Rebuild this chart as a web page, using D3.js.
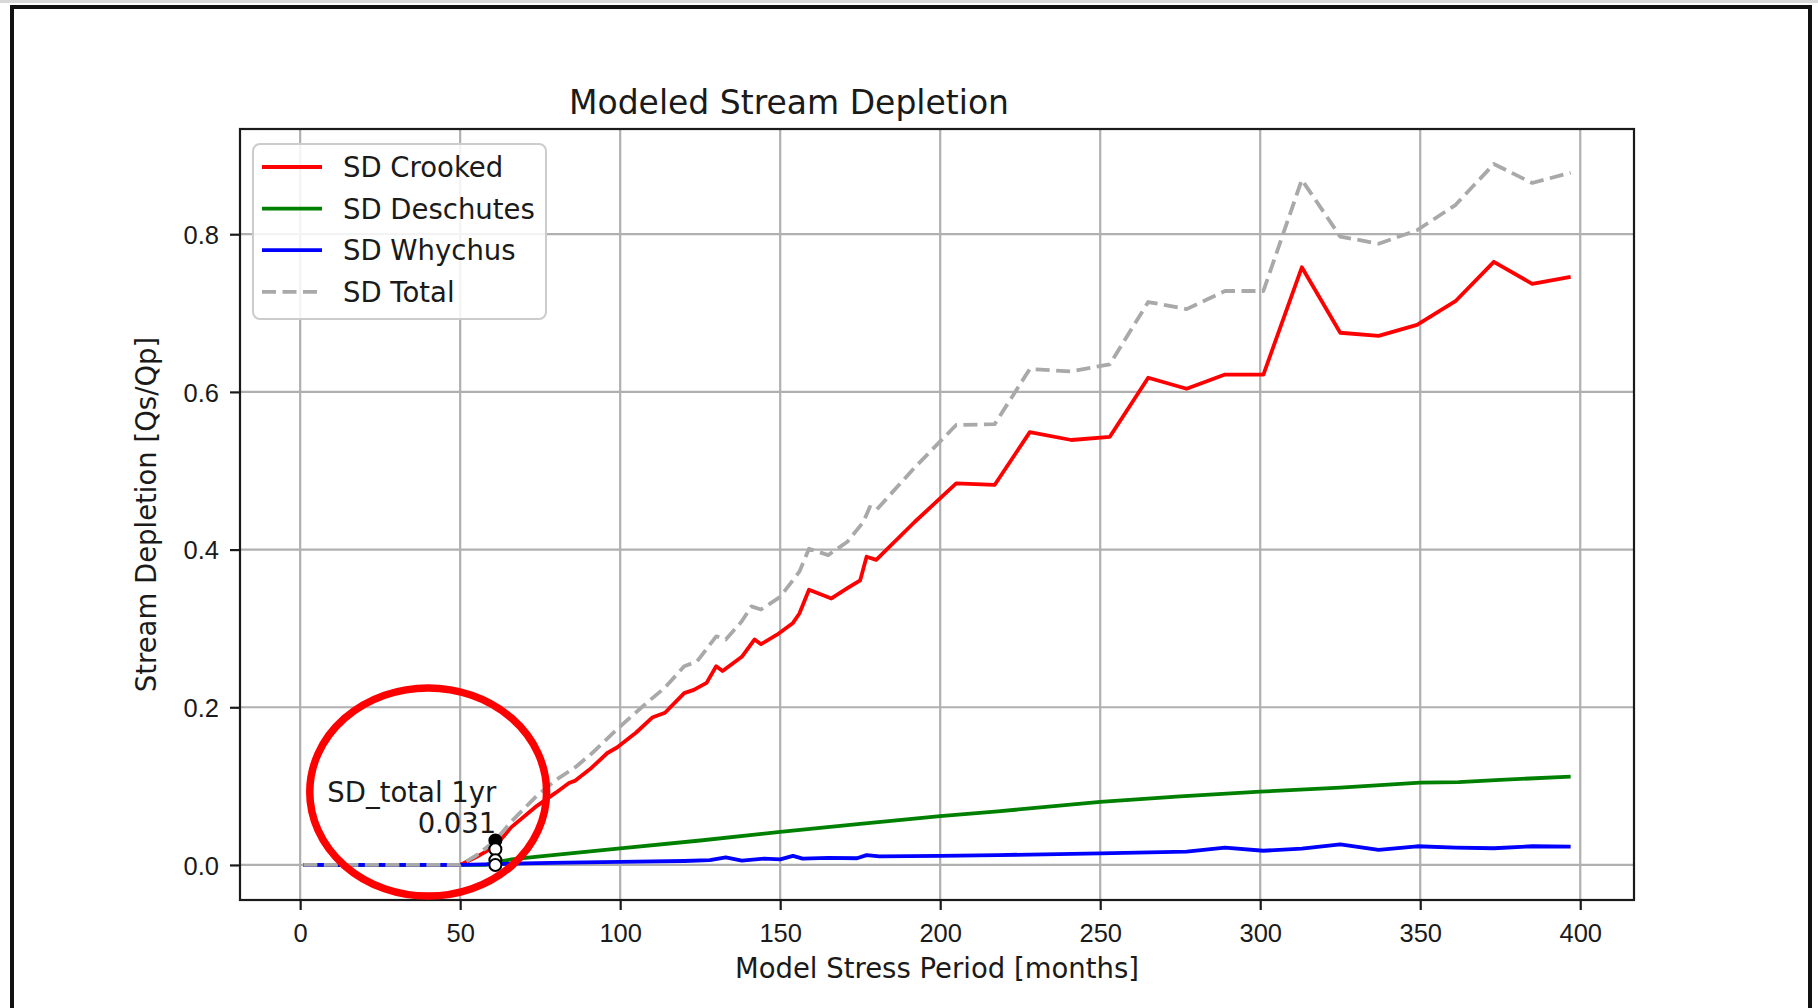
<!DOCTYPE html>
<html>
<head>
<meta charset="utf-8">
<script src="https://cdn.jsdelivr.net/npm/d3@7"></script>
<style>
  html, body { margin: 0; padding: 0; background: #fff; }
  svg { display: block; font-family: "DejaVu Sans", sans-serif; }
</style>
</head>
<body>
<div id="chart"></div>
<script>
// values (x = model stress period, y = Qs/Qp)
const crookedX = [1, 50, 55, 61, 66, 74, 80, 84, 86, 91, 96, 99, 105, 110, 114, 120, 123, 127, 130, 132,
  138, 142, 144, 149, 154, 156, 159, 166, 171, 175, 177, 180, 192, 205, 217, 228, 241, 253, 265, 277,
  289, 301, 313, 325, 337, 349, 361, 373, 385, 397];
const crookedY = [0, 0, 0.010, 0.024, 0.048, 0.075, 0.092, 0.104, 0.107, 0.123, 0.142, 0.149, 0.168, 0.187, 0.193,
  0.218, 0.222, 0.231, 0.252, 0.246, 0.264, 0.286, 0.280, 0.292, 0.307, 0.319, 0.349, 0.338, 0.351, 0.361,
  0.391, 0.387, 0.435, 0.484, 0.482, 0.549, 0.539, 0.543, 0.618, 0.604, 0.622, 0.622, 0.758, 0.675, 0.671,
  0.685, 0.715, 0.765, 0.737, 0.746];

const deschutesX = [1, 58, 62, 66, 75, 100, 125, 150, 175, 200, 218, 250, 275, 300, 325, 350, 362, 375, 397];
const deschutesY = [0, 0, 0.004, 0.007, 0.011, 0.021, 0.031, 0.042, 0.052, 0.062, 0.068, 0.080, 0.087, 0.093,
  0.098, 0.1045, 0.105, 0.108, 0.112];

const whychusX = [1, 50, 61, 70, 83, 100, 120, 128, 133, 138, 145, 150, 154, 157, 165, 174, 177, 181, 200, 218,
  250, 277, 289, 301, 313, 325, 337, 349, 361, 373, 385, 397];
const whychusY = [0, 0, 0.001, 0.002, 0.003, 0.004, 0.005, 0.006, 0.0095, 0.0055, 0.008, 0.007, 0.0115, 0.008,
  0.009, 0.0085, 0.0125, 0.011, 0.0115, 0.0125, 0.0148, 0.017, 0.022, 0.018, 0.0208, 0.026, 0.019, 0.0237,
  0.022, 0.0212, 0.0237, 0.0233];

const totalX = [1, 50, 55, 61, 66, 74, 80, 86, 91, 99, 107, 114, 120, 124, 130, 133, 138, 141, 144, 150,
  156, 159, 165, 171, 176, 178, 180, 192, 205, 217, 228, 241, 253, 265, 277, 289, 301, 313, 325, 337,
  349, 361, 373, 385, 397];
const totalY = [0, 0, 0.012, 0.031, 0.055, 0.088, 0.108, 0.124, 0.141, 0.172, 0.201, 0.225, 0.252, 0.258, 0.290,
  0.286, 0.309, 0.328, 0.324, 0.340, 0.372, 0.401, 0.393, 0.410, 0.435, 0.454, 0.450, 0.504, 0.558, 0.559,
  0.629, 0.626, 0.635, 0.714, 0.705, 0.728, 0.728, 0.869, 0.797, 0.788, 0.805, 0.837, 0.889, 0.865, 0.878];

const seriesNames = ['SD Crooked', 'SD Deschutes', 'SD Whychus', 'SD Total'];
const xTicks = [0, 50, 100, 150, 200, 250, 300, 350, 400];
const yTicks = [0.0, 0.2, 0.4, 0.6, 0.8];

// 1 yr marker points
const markerX = 61;
const markerY = [0.031, 0.020, 0.006, 0.0];
const noteLines = ['SD_total 1yr', '0.031'];

const W = 1818, H = 1008;
const M = { left: 240, right: 1634, top: 129, bottom: 900 };

const svg = d3.select('#chart').append('svg')
  .attr('width', W)
  .attr('height', H)
  .attr('viewBox', [0, 0, W, H]);

svg.append('rect').attr('width', W).attr('height', H).attr('fill', '#fff');

// screenshot frame
svg.append('line').attr('x1', 0).attr('x2', W).attr('y1', 1.5).attr('y2', 1.5)
  .attr('stroke', '#d8d8d8').attr('stroke-width', 3);
svg.append('path')
  .attr('d', `M12,${H} V7 H1810 V${H}`)
  .attr('fill', 'none')
  .attr('stroke', '#111')
  .attr('stroke-width', 4);

const series = [
  { name: seriesNames[0], xs: crookedX, ys: crookedY, color: '#ff0000', dash: null },
  { name: seriesNames[1], xs: deschutesX, ys: deschutesY, color: '#008000', dash: null },
  { name: seriesNames[2], xs: whychusX, ys: whychusY, color: '#0000ff', dash: null },
  { name: seriesNames[3], xs: totalX, ys: totalY, color: '#a9a9a9', dash: '14,6.5' }
];

// matplotlib style 5% margins
const allX = series.flatMap(s => s.xs);
const allY = series.flatMap(s => s.ys);
const [x0, x1] = d3.extent(allX);
const [y0, y1] = d3.extent(allY);
const x = d3.scaleLinear()
  .domain([x0 - 0.05 * (x1 - x0), x1 + 0.05 * (x1 - x0)])
  .range([M.left, M.right]);
const y = d3.scaleLinear()
  .domain([y0 - 0.05 * (y1 - y0), y1 + 0.05 * (y1 - y0)])
  .range([M.bottom, M.top]);

// grid
const grid = svg.append('g').attr('stroke', '#b0b0b0').attr('stroke-width', 2.2);
grid.selectAll('.gx').data(xTicks).join('line')
  .attr('x1', d => x(d)).attr('x2', d => x(d))
  .attr('y1', M.top).attr('y2', M.bottom);
grid.selectAll('.gy').data(yTicks).join('line')
  .attr('y1', d => y(d)).attr('y2', d => y(d))
  .attr('x1', M.left).attr('x2', M.right);

// lines
svg.append('clipPath').attr('id', 'plot-clip')
  .append('rect')
  .attr('x', M.left).attr('y', M.top)
  .attr('width', M.right - M.left).attr('height', M.bottom - M.top);

const line = d3.line().x(d => x(d[0])).y(d => y(d[1]));
svg.append('g').attr('clip-path', 'url(#plot-clip)')
  .selectAll('path')
  .data(series)
  .join('path')
  .attr('d', s => line(s.xs.map((v, i) => [v, s.ys[i]])))
  .attr('fill', 'none')
  .attr('stroke', s => s.color)
  .attr('stroke-width', 3.8)
  .attr('stroke-linejoin', 'round')
  .attr('stroke-dasharray', s => s.dash);

// spines
svg.append('rect')
  .attr('x', M.left).attr('y', M.top)
  .attr('width', M.right - M.left).attr('height', M.bottom - M.top)
  .attr('fill', 'none').attr('stroke', '#1a1a1a').attr('stroke-width', 2.2);

// axes
const xAxis = svg.append('g')
  .attr('transform', `translate(0,${M.bottom})`)
  .call(d3.axisBottom(x).tickValues(xTicks).tickSize(10).tickFormat(d3.format('d')));
xAxis.select('.domain').remove();
xAxis.selectAll('line').attr('stroke', '#1a1a1a').attr('stroke-width', 2.2);
xAxis.selectAll('text')
  .attr('y', 42).attr('dy', null)
  .attr('fill', '#1a1a1a')
  .style('font-size', '25.5px');

const yAxis = svg.append('g')
  .attr('transform', `translate(${M.left},0)`)
  .call(d3.axisLeft(y).tickValues(yTicks).tickSize(10).tickFormat(d3.format('.1f')));
yAxis.select('.domain').remove();
yAxis.selectAll('line').attr('stroke', '#1a1a1a').attr('stroke-width', 2.2);
yAxis.selectAll('text')
  .attr('x', -21).attr('dy', '0.36em')
  .attr('fill', '#1a1a1a')
  .style('font-size', '25.5px');

// labels
svg.append('text')
  .attr('x', 789).attr('y', 114)
  .attr('text-anchor', 'middle')
  .attr('fill', '#1a1a1a')
  .style('font-size', '33px')
  .text('Modeled Stream Depletion');

svg.append('text')
  .attr('x', (M.left + M.right) / 2).attr('y', 978)
  .attr('text-anchor', 'middle')
  .attr('fill', '#1a1a1a')
  .style('font-size', '27.5px')
  .text('Model Stress Period [months]');

svg.append('text')
  .attr('transform', `translate(156,${(M.top + M.bottom) / 2}) rotate(-90)`)
  .attr('text-anchor', 'middle')
  .attr('fill', '#1a1a1a')
  .style('font-size', '27.5px')
  .text('Stream Depletion [Qs/Qp]');

// legend
const lg = svg.append('g').attr('transform', 'translate(253,144)');
lg.append('rect')
  .attr('width', 293).attr('height', 175)
  .attr('rx', 7)
  .attr('fill', '#fff').attr('fill-opacity', 0.85)
  .attr('stroke', '#cccccc').attr('stroke-width', 2);
const row = lg.selectAll('g.row').data(series).join('g')
  .attr('class', 'row')
  .attr('transform', (d, i) => `translate(0,${23 + i * 41.6})`);
row.append('line')
  .attr('x1', 9).attr('x2', 69)
  .attr('stroke', d => d.color)
  .attr('stroke-width', 3.8)
  .attr('stroke-dasharray', d => d.dash);
row.append('text')
  .attr('x', 90).attr('dy', '0.36em')
  .attr('fill', '#1a1a1a')
  .style('font-size', '27.5px')
  .text(d => d.name);

// 1 yr markers + note
const mk = svg.append('g');
mk.selectAll('circle').data(markerY).join('circle')
  .attr('cx', x(markerX))
  .attr('cy', d => y(d))
  .attr('r', 6)
  .attr('fill', (d, i) => i === 0 ? '#000' : '#fff')
  .attr('stroke', '#000')
  .attr('stroke-width', 2);

svg.append('g')
  .selectAll('text').data(noteLines).join('text')
  .attr('x', x(markerX) + 1)
  .attr('y', (d, i) => y(markerY[0]) - 8 - (noteLines.length - 1 - i) * 31)
  .attr('text-anchor', 'end')
  .attr('fill', '#1a1a1a')
  .style('font-size', '27.5px')
  .text(d => d);

// hand-drawn red ellipse round the first year
const cx = 40, cy = 0.0925;
svg.append('ellipse')
  .attr('cx', x(cx)).attr('cy', y(cy))
  .attr('rx', x(cx + 37) - x(cx))
  .attr('ry', y(cy) - y(cy + 0.132))
  .attr('fill', 'none')
  .attr('stroke', '#ff0000')
  .attr('stroke-width', 7.5);
</script>
</body>
</html>
